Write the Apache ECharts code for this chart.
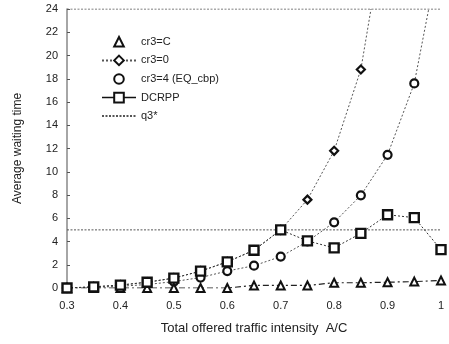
<!DOCTYPE html>
<html><head><meta charset="utf-8">
<script src="https://cdn.jsdelivr.net/npm/echarts@6/dist/echarts.min.js"></script>
<style>html,body{margin:0;padding:0;background:#fff}#c{width:449px;height:344px}</style>
</head><body><div id="c"></div>
<script>
var loads = [0.3,0.35,0.4,0.45,0.5,0.55,0.6,0.65,0.7,0.75,0.8,0.85,0.9,0.95,1.0];
var crC   = [0,0,0,0,0,0,0,0.22,0.22,0.22,0.45,0.45,0.5,0.55,0.65];
var cr0   = [0,0.1,0.25,0.5,0.85,1.45,2.25,3.25,5.0,7.6,11.8,18.8];
var cr0Tail = [[0.869,24]];
var cr4   = [0,0.05,0.15,0.3,0.55,0.9,1.46,1.92,2.7,4.0,5.65,7.97,11.46,17.6];
var cr4Tail = [[0.977,24]];
var dcrpp = [0,0.1,0.25,0.5,0.85,1.45,2.25,3.25,5.0,4.05,3.45,4.7,6.3,6.05,3.3];
var q3Levels = [5,24];
var xTicks = [0.3,0.4,0.5,0.6,0.7,0.8,0.9,1];

function pairs(vals){ return vals.map(function(v,i){ return [loads[i], v]; }); }
function tail(arr){ return arr.map(function(p){ return {value:p, symbol:'none'}; }); }

var FONT = '"Liberation Sans", Arial, sans-serif';
var series = [
  {name:'cr3=C', type:'line', data:pairs(crC), symbol:'triangle', symbolSize:8,
   itemStyle:{color:'#fff', borderColor:'#111', borderWidth:2},
   lineStyle:{color:'#222', width:1.2, type:[6,3,2,3]}, z:5},
  {name:'cr3=0', type:'line', data:pairs(cr0).concat(tail(cr0Tail)), symbol:'diamond', symbolSize:8,
   itemStyle:{color:'#fff', borderColor:'#111', borderWidth:2.2},
   lineStyle:{color:'#555', width:1, type:[2,2]}, z:4},
  {name:'cr3=4 (EQ_cbp)', type:'line', data:pairs(cr4).concat(tail(cr4Tail)), symbol:'circle', symbolSize:8,
   itemStyle:{color:'#fff', borderColor:'#111', borderWidth:2.2},
   lineStyle:{color:'#555', width:1, type:[2,2]}, z:4},
  {name:'DCRPP', type:'line', data:pairs(dcrpp), symbol:'rect', symbolSize:9,
   itemStyle:{color:'#fff', borderColor:'#111', borderWidth:2.4},
   lineStyle:{color:'#333', width:1, type:[2,2]}, z:6},
  {name:'q3*', type:'line', data:[[0.3,q3Levels[0]],[1,q3Levels[0]]], symbol:'none',
   itemStyle:{color:'#555'},
   lineStyle:{color:'#555', width:1, type:[2,1.5]}, z:3},
  {name:'q3*', type:'line', data:[[0.3,q3Levels[1]],[1,q3Levels[1]]], symbol:'none',
   itemStyle:{color:'#555'},
   lineStyle:{color:'#555', width:1, type:[2,1.5]}, z:3}
];

var chart = echarts.init(document.getElementById('c'), null, {renderer:'canvas'});
chart.setOption({
  animation:false,
  backgroundColor:'#fff',
  grid:{left:67, right:8, top:9, bottom:56},
  legend:{
    orient:'vertical', left:96, top:31, itemWidth:34, itemHeight:12, itemGap:7,
    textStyle:{fontFamily:FONT, fontSize:11, color:'#222'},
    data:[
      {name:'cr3=C', lineStyle:{opacity:0}},
      {name:'cr3=0'},
      {name:'cr3=4 (EQ_cbp)', lineStyle:{opacity:0}},
      {name:'DCRPP', lineStyle:{type:'solid', width:1.5, color:'#111'}},
      {name:'q3*', itemStyle:{opacity:0}}
    ]
  },
  xAxis:{
    type:'value', min:0.3, max:1, interval:0.1,
    name:'Total offered traffic intensity  A/C', nameLocation:'middle', nameGap:34,
    nameTextStyle:{fontFamily:FONT, fontSize:13, color:'#222'},
    axisLine:{show:false}, axisTick:{show:false}, splitLine:{show:false},
    axisLabel:{fontFamily:FONT, fontSize:11, color:'#222', margin:12,
      formatter:function(v){ var r=Math.round(v*10)/10; return r===1?'1':r.toFixed(1); }}
  },
  yAxis:{
    type:'value', min:0, max:24, interval:2,
    name:'Average waiting time', nameLocation:'middle', nameGap:43,
    nameTextStyle:{fontFamily:FONT, fontSize:12, color:'#222'},
    axisLine:{show:true, lineStyle:{color:'#888', width:1.5}},
    axisTick:{show:true, inside:true, length:3, lineStyle:{color:'#555'}},
    splitLine:{show:false},
    axisLabel:{fontFamily:FONT, fontSize:11, color:'#222', margin:9}
  },
  series:series
});
</script></body></html>
